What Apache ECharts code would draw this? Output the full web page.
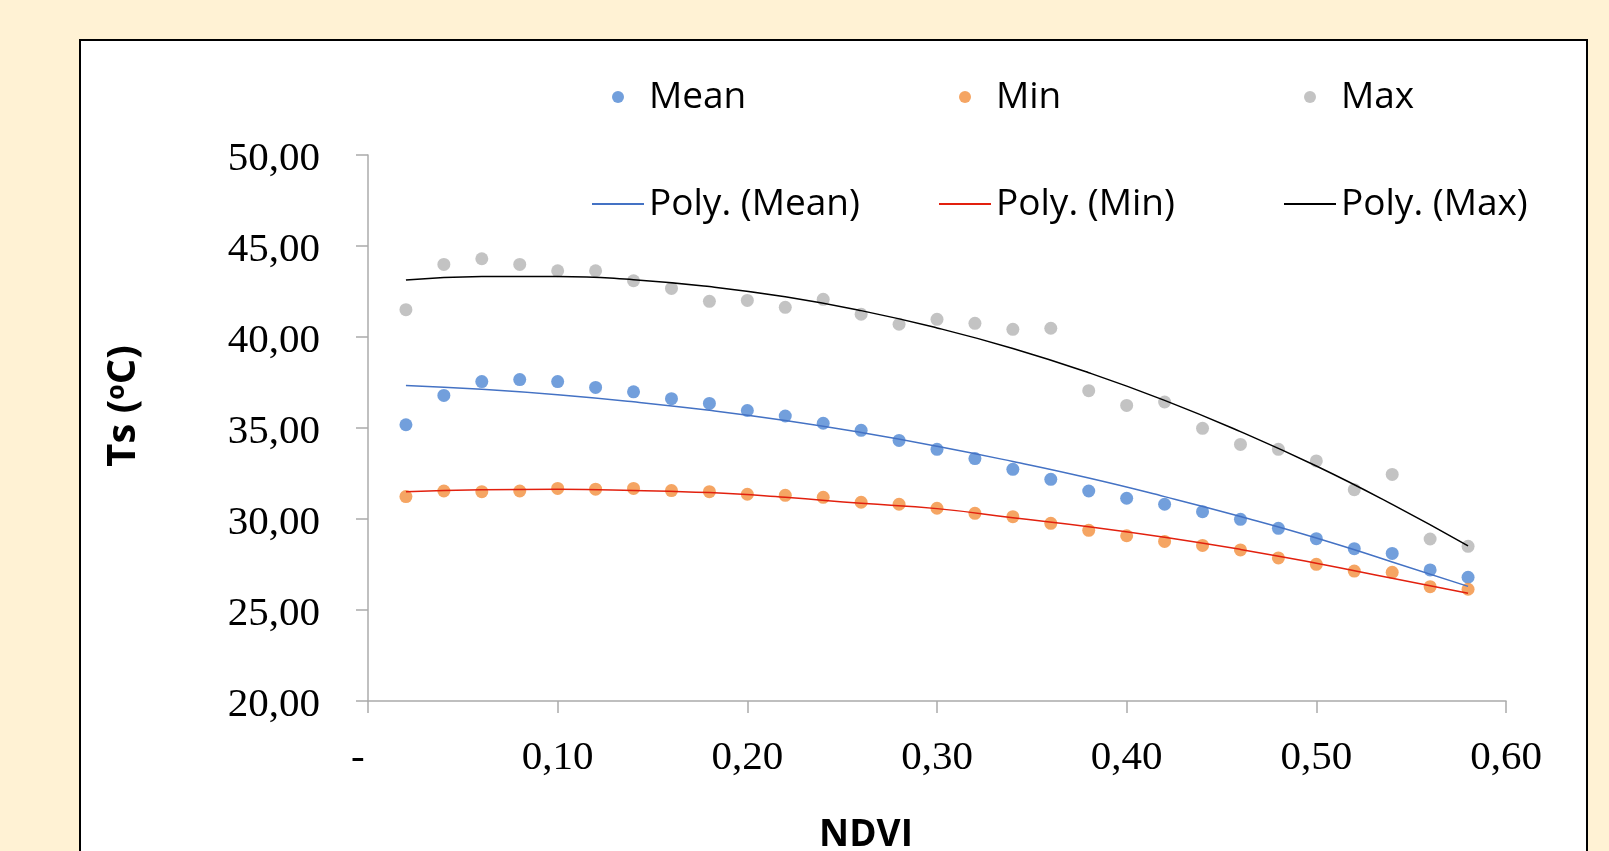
<!DOCTYPE html>
<html>
<head>
<meta charset="utf-8">
<title>Ts vs NDVI</title>
<script src="https://cdn.jsdelivr.net/npm/echarts@6/dist/echarts.min.js"></script>
<style>
  html, body { margin: 0; padding: 0; background: #fff2d4; }
  #chart { width: 1609px; height: 851px; }
</style>
</head>
<body>
<div id="chart"></div>
<script>
// NDVI classes (x) and surface temperature stats (°C)
const ndvi = [0.02, 0.04, 0.06, 0.08, 0.10, 0.12, 0.14, 0.16, 0.18, 0.20,
  0.22, 0.24, 0.26, 0.28, 0.30, 0.32, 0.34, 0.36, 0.38, 0.40,
  0.42, 0.44, 0.46, 0.48, 0.50, 0.52, 0.54, 0.56, 0.58];
const meanTs = [35.18, 36.79, 37.55, 37.66, 37.55, 37.23, 36.99, 36.61, 36.35, 35.96,
  35.66, 35.26, 34.87, 34.32, 33.83, 33.32, 32.73, 32.18, 31.54, 31.14,
  30.81, 30.40, 29.98, 29.49, 28.92, 28.37, 28.11, 27.20, 26.80];
const minTs = [31.23, 31.54, 31.50, 31.54, 31.68, 31.64, 31.68, 31.56, 31.50, 31.36,
  31.30, 31.19, 30.92, 30.81, 30.59, 30.31, 30.13, 29.76, 29.38, 29.08,
  28.77, 28.55, 28.30, 27.86, 27.51, 27.14, 27.07, 26.28, 26.14];
const maxTs = [41.50, 43.99, 44.30, 43.99, 43.64, 43.64, 43.09, 42.67, 41.96, 42.01,
  41.63, 42.07, 41.25, 40.70, 40.97, 40.75, 40.42, 40.48, 37.05, 36.24,
  36.43, 34.98, 34.10, 33.83, 33.19, 31.61, 32.45, 28.90, 28.50];

// polynomial trend lines
const trendNdvi = [0.02, 0.06, 0.10, 0.14, 0.18, 0.22, 0.26, 0.30, 0.34, 0.38, 0.42, 0.46, 0.50, 0.54, 0.58];
const trendMean = [37.34, 37.13, 36.83, 36.44, 35.97, 35.41, 34.75, 34.00, 33.16, 32.25, 31.23, 30.14, 28.96, 27.64, 26.30];
const trendMin = [31.50, 31.61, 31.63, 31.57, 31.45, 31.19, 30.86, 30.57, 30.07, 29.58, 29.00, 28.33, 27.57, 26.74, 25.92];
const trendMax = [43.13, 43.33, 43.33, 43.15, 42.77, 42.21, 41.45, 40.50, 39.37, 38.04, 36.52, 34.80, 32.91, 30.80, 28.52];

const pairs = (xs, ys) => xs.map((x, i) => [x, ys[i]]);
const serif = 'Liberation Serif';
const sans = 'Open Sans';

const chart = echarts.init(document.getElementById('chart'), null, { renderer: 'canvas' });

const scatter = (name, data, color) => ({
  name, type: 'scatter', data, symbolSize: 13,
  itemStyle: { color }, z: 3,
});
const trend = (name, data, color) => ({
  name, type: 'line', data, smooth: true, symbol: 'none',
  lineStyle: { color, width: 1.5 }, itemStyle: { color }, z: 4,
});
const legendAt = (left, names) => ({
  orient: 'vertical', left, top: 77, padding: 0,
  itemWidth: 52, itemHeight: 12, itemGap: 67,
  textStyle: { fontFamily: sans, fontSize: 37, lineHeight: 40, color: '#000' },
  // the trend entries show only the line, no dot
  data: [{ name: names[0], icon: 'circle' }, { name: names[1], itemStyle: { opacity: 0 } }],
});

chart.setOption({
  backgroundColor: '#fff2d4',
  animation: false,
  graphic: [{
    type: 'rect', z: -10, silent: true,
    shape: { x: 80, y: 40, width: 1507, height: 900 },
    style: { fill: '#fff', stroke: '#000', lineWidth: 2 },
  }],
  legend: [
    legendAt(591, ['Mean', 'Poly. (Mean)']),
    legendAt(938, ['Min', 'Poly. (Min)']),
    legendAt(1283, ['Max', 'Poly. (Max)']),
  ],
  grid: { left: 368, right: 103, top: 155, bottom: 150, outerBoundsMode: 'none' },
  xAxis: {
    type: 'value', min: 0, max: 0.6, interval: 0.1,
    name: 'NDVI', nameLocation: 'middle', nameGap: 116,
    nameTextStyle: { fontFamily: sans, fontWeight: 'bold', fontSize: 37, color: '#000', padding: [0, 142, 0, 0] },
    axisLine: { lineStyle: { color: '#ababab', width: 1.5 } },
    axisTick: { length: 12, lineStyle: { color: '#ababab', width: 1.5 } },
    splitLine: { show: false },
    axisLabel: {
      fontFamily: serif, fontSize: 41, color: '#000', margin: 37,
      formatter: (v) => (v === 0 ? '-  ' : v.toFixed(2).replace('.', ',')),
    },
  },
  yAxis: {
    type: 'value', min: 20, max: 50, interval: 5,
    name: 'Ts ({sup|o}C)', nameLocation: 'middle', nameGap: 224, nameRotate: 90,
    nameTextStyle: {
      fontFamily: sans, fontWeight: 'bold', fontSize: 40, color: '#000', padding: [0, 0, 0, 44],
      rich: { sup: { fontFamily: sans, fontWeight: 'bold', fontSize: 25, lineHeight: 25, verticalAlign: 'top', color: '#000' } },
    },
    axisLine: { show: true, lineStyle: { color: '#ababab', width: 1.5 } },
    axisTick: { show: true, length: 12, lineStyle: { color: '#ababab', width: 1.5 } },
    splitLine: { show: false },
    axisLabel: {
      // short line box hung from the tick drops the digits a few px below it
      fontFamily: serif, fontSize: 41, color: '#000', margin: 48,
      verticalAlign: 'top', lineHeight: 8,
      formatter: (v) => v.toFixed(2).replace('.', ','),
    },
  },
  series: [
    scatter('Mean', pairs(ndvi, meanTs), '#4f87d3'),
    scatter('Min', pairs(ndvi, minTs), '#f28e3c'),
    scatter('Max', pairs(ndvi, maxTs), '#b4b4b4'),
    trend('Poly. (Mean)', pairs(trendNdvi, trendMean), '#4472c4'),
    trend('Poly. (Min)', pairs(trendNdvi, trendMin), '#e2200e'),
    trend('Poly. (Max)', pairs(trendNdvi, trendMax), '#000000'),
  ],
});
</script>
</body>
</html>
